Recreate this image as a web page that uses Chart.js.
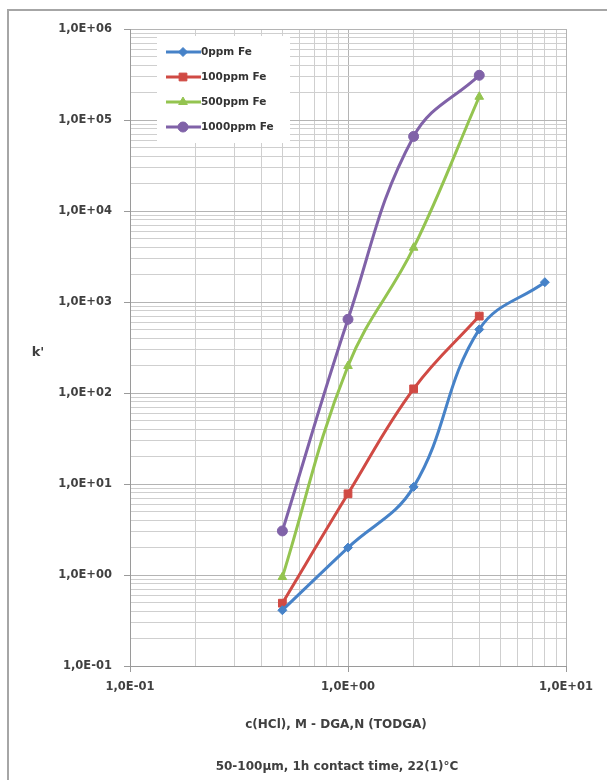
<!DOCTYPE html>
<html>
<head>
<meta charset="utf-8">
<script src="https://cdn.jsdelivr.net/npm/chart.js@4.4.1/dist/chart.umd.min.js"></script>
<style>
  html, body { margin: 0; padding: 0; background: #ffffff; }
  body { width: 607px; height: 780px; position: relative; overflow: hidden; font-family: "DejaVu Sans", sans-serif; }
  #frame { position: absolute; left: 7px; top: 9px; width: 700px; height: 900px; border-left: 2px solid #a6a6a6; border-top: 2px solid #a6a6a6; }
  #wrap { position: absolute; left: 0; top: 0; width: 607px; height: 780px; }
  .t { position: absolute; font-weight: bold; color: #404040; white-space: nowrap; transform: translate(-50%, -50%); }
</style>
</head>
<body>
<div id="frame"></div>
<div id="wrap"><canvas id="c" width="607" height="780"></canvas></div>
<div class="t" id="ylab" style="left:38px; top:351px; font-size:13px;">k'</div>
<div class="t" id="xlab" style="left:336px; top:724px; font-size:12px;">c(HCl), M - DGA,N (TODGA)</div>
<div class="t" id="sub" style="left:337px; top:766px; font-size:12px;">50-100µm, 1h contact time, 22(1)°C</div>
<script>
// ---- data ----
const seriesNames = ['0ppm Fe', '100ppm Fe', '500ppm Fe', '1000ppm Fe'];
const x0 = [0.5, 1, 2, 4, 8];
const y0 = [0.41, 2.0, 9.3, 500, 1650];
const x100 = [0.5, 1, 2, 4];
const y100 = [0.49, 7.8, 111, 700];
const x500 = [0.5, 1, 2, 4];
const y500 = [0.95, 198, 3950, 180000];
const x1000 = [0.5, 1, 2, 4];
const y1000 = [3.05, 645, 66000, 310000];
const xTickValues = [0.1, 1, 10];
const xTickLabels = ['1,0E-01', '1,0E+00', '1,0E+01'];
const yTickValues = [0.1, 1, 10, 100, 1000, 10000, 100000, 1000000];
const yTickLabels = ['1,0E-01', '1,0E+00', '1,0E+01', '1,0E+02', '1,0E+03', '1,0E+04', '1,0E+05', '1,0E+06'];

const colors = ['#4682c8', '#d04a44', '#94c450', '#8062a8'];
const styles = ['rectRot', 'rect', 'triangle', 'circle'];
const radii = [4.5, 5.5, 5, 5];

function pts(xs, ys) { return xs.map((x, i) => ({ x: x, y: ys[i] })); }
const seriesData = [pts(x0, y0), pts(x100, y100), pts(x500, y500), pts(x1000, y1000)];

function logTicks(majors) {
  const out = [];
  for (let i = 0; i < majors.length; i++) {
    out.push({ value: majors[i], major: true });
    if (i < majors.length - 1) {
      for (let k = 2; k <= 9; k++) out.push({ value: majors[i] * k, major: false });
    }
  }
  return out;
}
function labelFor(values, labels, v) {
  for (let i = 0; i < values.length; i++) {
    if (Math.abs(Math.log10(v) - Math.log10(values[i])) < 1e-9) return labels[i];
  }
  return '';
}

const tickFont = { family: 'DejaVu Sans', size: 11.5, weight: 'bold' };

const legendPlugin = {
  id: 'boxLegend',
  afterDraw(chart) {
    const ctx = chart.ctx;
    const bx = 157, by = 36, bw = 133, bh = 107;
    ctx.save();
    ctx.fillStyle = '#ffffff';
    ctx.fillRect(bx, by, bw, bh);
    const rows = [52, 77, 102, 127];
    chart.data.datasets.forEach((ds, i) => {
      const y = rows[i];
      ctx.strokeStyle = ds.borderColor;
      ctx.lineWidth = 3;
      ctx.beginPath();
      ctx.moveTo(166, y);
      ctx.lineTo(201, y);
      ctx.stroke();
      ctx.fillStyle = ds.backgroundColor;
      ctx.strokeStyle = ds.borderColor;
      ctx.lineWidth = 1;
      Chart.helpers.drawPoint(ctx, { pointStyle: ds.pointStyle, radius: ds.pointRadius, rotation: 0, borderWidth: 1 }, 183, y);
      ctx.fillStyle = '#333333';
      ctx.font = 'bold 10.5px "DejaVu Sans"';
      ctx.textBaseline = 'middle';
      ctx.textAlign = 'left';
      ctx.fillText(ds.label, 201, y + 0.5);
    });
    ctx.restore();
  }
};

new Chart(document.getElementById('c'), {
  type: 'scatter',
  data: {
    datasets: seriesData.map((d, i) => ({
      label: seriesNames[i],
      data: d,
      showLine: true,
      tension: 0.4,
      borderColor: colors[i],
      backgroundColor: colors[i],
      borderWidth: 3,
      pointStyle: styles[i],
      pointRadius: radii[i],
      pointHoverRadius: radii[i],
      pointBorderWidth: 1,
      clip: false
    }))
  },
  plugins: [legendPlugin],
  options: {
    responsive: false,
    animation: false,
    events: [],
    layout: { padding: { left: 0, top: 29, right: 41, bottom: 74 } },
    plugins: { legend: { display: false }, tooltip: { enabled: false }, title: { display: false } },
    scales: {
      x: {
        type: 'logarithmic',
        min: 0.1, max: 10,
        afterBuildTicks(scale) { scale.ticks = logTicks(xTickValues); },
        afterFit(scale) { scale.height = 40; },
        border: { display: true, color: '#9a9a9a', width: 1 },
        grid: {
          color: (c) => (c.tick && c.tick.major) ? '#b4b4b4' : '#cfcfcf',
          lineWidth: 1,
          tickLength: 6,
          tickColor: (c) => (c.tick && c.tick.major) ? '#9a9a9a' : 'rgba(0,0,0,0)'
        },
        ticks: {
          autoSkip: false,
          maxRotation: 0,
          padding: 8,
          color: '#404040',
          font: tickFont,
          callback: (v) => labelFor(xTickValues, xTickLabels, v)
        }
      },
      y: {
        type: 'logarithmic',
        min: 0.1, max: 1000000,
        afterBuildTicks(scale) { scale.ticks = logTicks(yTickValues); },
        afterFit(scale) { scale.width = 130; },
        border: { display: true, color: '#9a9a9a', width: 1 },
        grid: {
          color: (c) => (c.tick && c.tick.major) ? '#b4b4b4' : '#cfcfcf',
          lineWidth: 1,
          tickLength: 6,
          tickColor: (c) => (c.tick && c.tick.major) ? '#9a9a9a' : 'rgba(0,0,0,0)'
        },
        ticks: {
          autoSkip: false,
          padding: 12,
          color: '#404040',
          font: tickFont,
          callback: (v) => labelFor(yTickValues, yTickLabels, v)
        }
      }
    }
  }
});
</script>
</body>
</html>
